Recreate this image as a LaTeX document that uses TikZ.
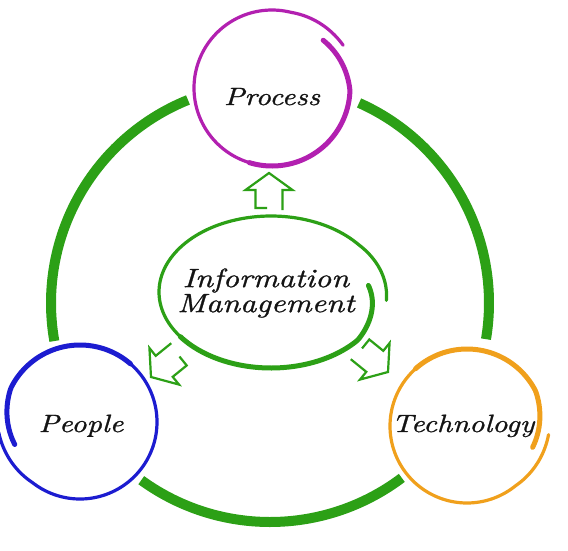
\documentclass[tikz,border=0pt]{standalone}
\usepackage{fontspec}
\setmainfont{Latin Modern Roman}
\newfontfamily\handfont{lmroman10-italic.otf}[FakeStretch=1.2, FakeBold=1]
\usepackage{tikz}
\definecolor{grn}{RGB}{44,160,22}
\definecolor{magc}{RGB}{178,32,176}
\definecolor{bluc}{RGB}{28,28,208}
\definecolor{orgc}{RGB}{240,160,28}
% hand drawn ring: #1 cx, #2 cy, #3 rx, #4 ry, #5 start angle, #6 direction, #7 colour, #8 start offset, #9 end offset
\newcommand\skring[9]{%
  \draw[#7, line width=3.2pt, line cap=round]
    plot[domain=0:372, samples=160, smooth]
    ({#1 + (#3 + #8*max(0,1-\x/45) + #9*max(0,1-(372-\x)/45))*cos(#5 + #6*\x)},
     {#2 - (#4 + #8*max(0,1-\x/45) + #9*max(0,1-(372-\x)/45))*sin(#5 + #6*\x)});
  \draw[#7, line width=5pt, line cap=round]
    plot[domain=0:150, samples=70, smooth]
    ({#1 + (#3 + #8*max(0,1-\x/45))*cos(#5 + #6*\x)},
     {#2 - (#4 + #8*max(0,1-\x/45))*sin(#5 + #6*\x)});
}
% hollow block arrow: tip at (#1,#2), rotated by #3
\newcommand\hollowarrow[3]{%
  \begin{scope}[shift={(#1,#2)}, rotate=#3]
    \draw[grn, line width=2.2pt, line join=miter]
      (-2,35) -- (-13.5,35) -- (-13.5,17) -- (-23.5,17) -- (0,0)
      -- (23.5,17) -- (13.5,17) -- (13.5,37);
  \end{scope}
}
\tikzset{
  lbl/.style={text=black!92, align=center, inner sep=0pt, anchor=base},
  bigarc/.style={grn, line width=10pt, line cap=butt}
}
\begin{document}
\begin{tikzpicture}[x=1pt, y=-1pt]
  \useasboundingbox (0,0) rectangle (568,550);
  \fill[white] (0,0) rectangle (568,550);
  % big green circle segments, centre (270,303), radius 219
  \coordinate (bc) at (270,303);
  \draw[bigarc] plot[domain=112:190, samples=60, smooth] ({270+219*cos(\x)},{303-219*sin(\x)});
  \draw[bigarc] plot[domain=234:307, samples=60, smooth] ({270+219*cos(\x)},{303-219*sin(\x)});
  \draw[bigarc] plot[domain=-9.5:66, samples=60, smooth] ({270+219*cos(\x)},{303-219*sin(\x)});
  % rings
  \skring{272}{88}{78}{78}{43}{-1}{magc}{-8}{5}
  \skring{80}{422}{77}{77}{199}{-1}{bluc}{-8}{5}
  \skring{467}{426}{77}{77}{-18}{1}{orgc}{-8}{5}
  \skring{271}{292}{112}{76}{6}{-1}{grn}{-14}{4}
  % labels
  \node[lbl, font=\fontsize{25}{25}\selectfont\handfont] (proc) at (272,105) {Process};
  \node[lbl, font=\fontsize{25}{25}\selectfont\handfont] (peop) at (81,432) {People};
  \node[lbl, font=\fontsize{25}{25}\selectfont\handfont] (tech) at (463,432) {Technology};
  \node[lbl, anchor=center, font=\fontsize{26.5}{25}\selectfont\handfont] (info) at (266,293) {Information\\Management};
  % arrows
  \hollowarrow{269}{173}{0}
  \hollowarrow{151}{377}{129}
  \hollowarrow{388}{372}{-129}
\end{tikzpicture}
\end{document}
